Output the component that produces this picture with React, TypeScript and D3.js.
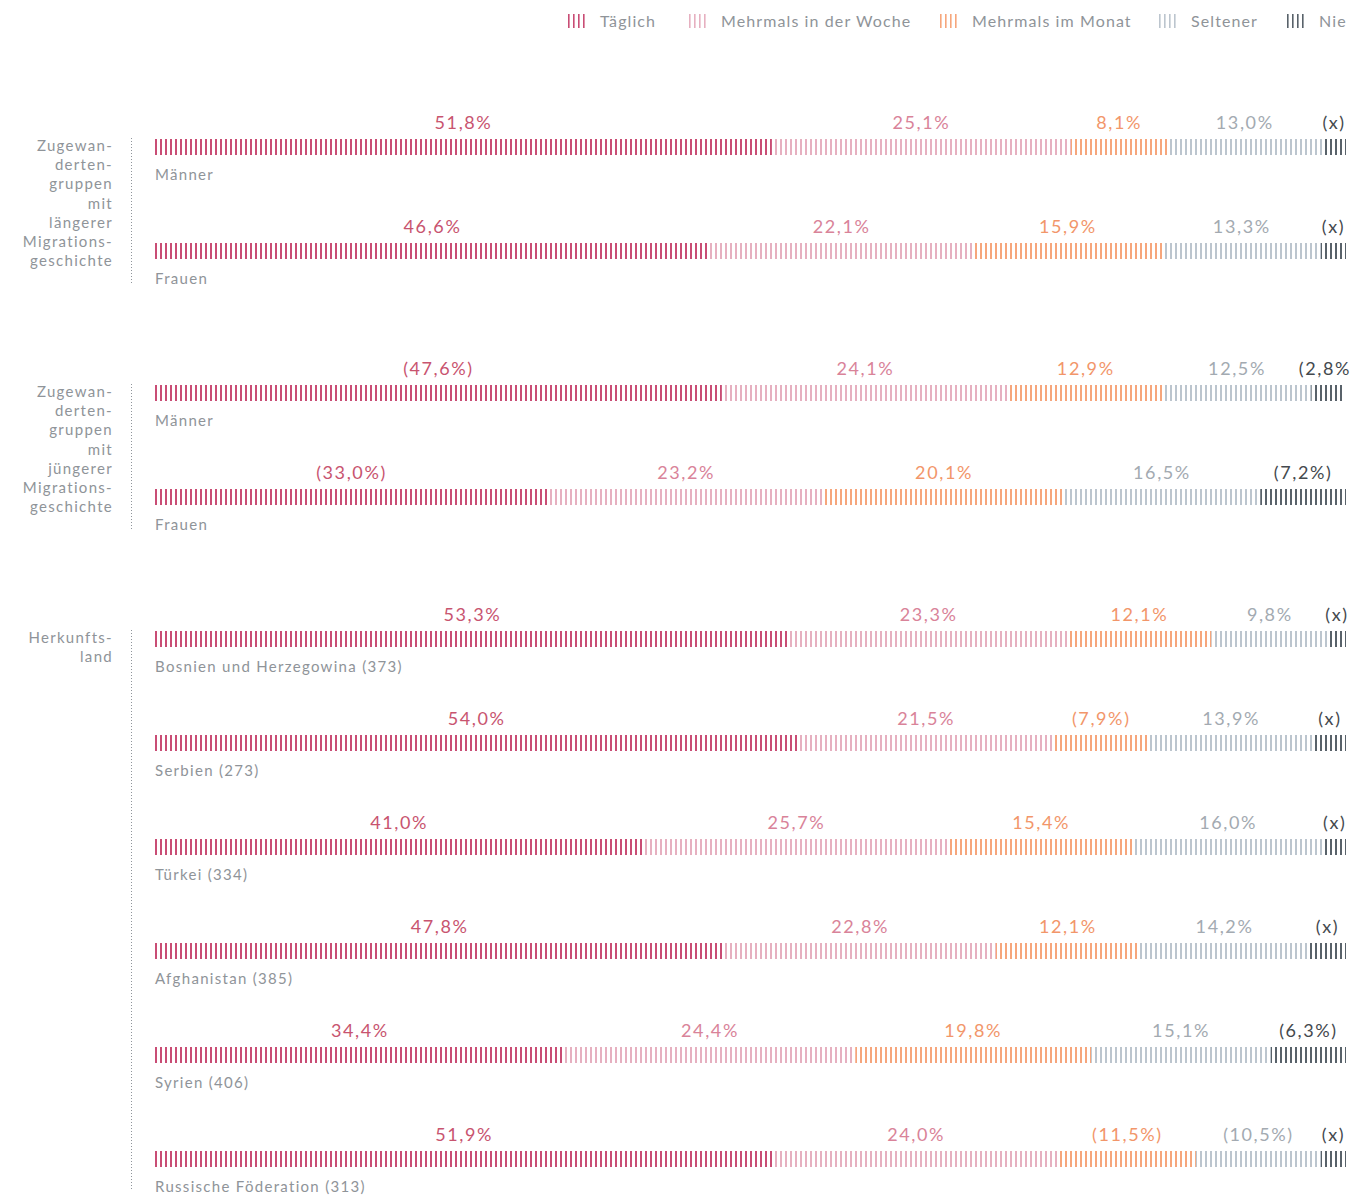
import React from "react";
import * as d3 from "d3";

const categories = ["Täglich", "Mehrmals in der Woche", "Mehrmals im Monat", "Seltener", "Nie"];
const colors = ["#c94d75", "#e6b0c0", "#f6a67c", "#bcc5ce", "#59626a"];
const labelColors = ["#c8546f", "#d98399", "#f2966a", "#a3aab1", "#44494e"];

const rowNames = [
  "Männer", "Frauen",
  "Männer", "Frauen",
  "Bosnien und Herzegowina (373)", "Serbien (273)", "Türkei (334)", "Afghanistan (385)", "Syrien (406)", "Russische Föderation (313)",
];
const rowGroup = [0, 0, 1, 1, 2, 2, 2, 2, 2, 2];
const groupLabels = [
  ["Zugewan-", "derten-", "gruppen", "mit", "längerer", "Migrations-", "geschichte"],
  ["Zugewan-", "derten-", "gruppen", "mit", "jüngerer", "Migrations-", "geschichte"],
  ["Herkunfts-", "land"],
];

const taeglich = [51.8, 46.6, 47.6, 33.0, 53.3, 54.0, 41.0, 47.8, 34.4, 51.9];
const woche = [25.1, 22.1, 24.1, 23.2, 23.3, 21.5, 25.7, 22.8, 24.4, 24.0];
const monat = [8.1, 15.9, 12.9, 20.1, 12.1, 7.9, 15.4, 12.1, 19.8, 11.5];
const seltener = [13.0, 13.3, 12.5, 16.5, 9.8, 13.9, 16.0, 14.2, 15.1, 10.5];
const nie = [2.0, 2.1, 2.8, 7.2, 1.5, 2.7, 1.9, 3.1, 6.3, 2.1];

const taeglichLabels = ["51,8%", "46,6%", "(47,6%)", "(33,0%)", "53,3%", "54,0%", "41,0%", "47,8%", "34,4%", "51,9%"];
const wocheLabels = ["25,1%", "22,1%", "24,1%", "23,2%", "23,3%", "21,5%", "25,7%", "22,8%", "24,4%", "24,0%"];
const monatLabels = ["8,1%", "15,9%", "12,9%", "20,1%", "12,1%", "(7,9%)", "15,4%", "12,1%", "19,8%", "(11,5%)"];
const seltenerLabels = ["13,0%", "13,3%", "12,5%", "16,5%", "9,8%", "13,9%", "16,0%", "14,2%", "15,1%", "(10,5%)"];
const nieLabels = ["(x)", "(x)", "(2,8%)", "(7,2%)", "(x)", "(x)", "(x)", "(x)", "(6,3%)", "(x)"];

const series = [taeglich, woche, monat, seltener, nie];
const seriesLabels = [taeglichLabels, wocheLabels, monatLabels, seltenerLabels, nieLabels];

const W = 1351;
const H = 1197;
const X0 = 155;
const X1 = 1346;
const BAR_H = 16;
const FONT = "Lato, 'Open Sans', sans-serif";

export default function App() {
  const x = d3.scaleLinear().domain([0, 100]).range([X0, X1]);
  const rowY = (i: number) => 139 + i * 104 + rowGroup[i] * 38;

  const legendX = [568, 689, 940, 1159, 1287];

  return (
    <svg width={W} height={H} style={{ position: "absolute", left: 0, top: 0, background: "#fff" }} fontFamily={FONT}>
      <defs>
        {colors.map((c, k) => (
          <pattern key={k} id={`stripe${k}`} patternUnits="userSpaceOnUse" x={X0} y={0} width={5} height={10}>
            <rect x={0} y={0} width={2} height={10} fill={c} />
          </pattern>
        ))}
      </defs>

      {/* legend */}
      {categories.map((cat, k) => (
        <g key={cat} transform={`translate(${legendX[k]},0)`}>
          {d3.range(4).map((j) => (
            <rect key={j} x={j * 5} y={14} width={1.6} height={14} fill={colors[k]} />
          ))}
          <text x={32} y={27} fontSize={16} fill="#8f9499" letterSpacing={1.1}>{cat}</text>
        </g>
      ))}

      {/* group labels and dotted lines */}
      {groupLabels.map((lines, g) => {
        const rows = rowGroup.map((gg, i) => (gg === g ? i : -1)).filter((i) => i >= 0);
        const top = rowY(rows[0]);
        const bottom = rowY(rows[rows.length - 1]) + 40;
        return (
          <g key={g}>
            {lines.map((l, j) => (
              <text key={j} x={113} y={top + 12 + j * 19.2} fontSize={15} fill="#8f9499" textAnchor="end" letterSpacing={1.3}>{l}</text>
            ))}
            <line x1={131.5} x2={131.5} y1={top - 1} y2={bottom} stroke="#8f959b" strokeWidth={1} strokeDasharray="1,2" />
          </g>
        );
      })}

      {/* bars */}
      {rowNames.map((name, i) => {
        const y = rowY(i);
        let cum = 0;
        return (
          <g key={i}>
            {series.map((s, k) => {
              const start = cum;
              cum += s[i];
              const xa = x(start);
              const xb = Math.min(x(cum), X1);
              return (
                <g key={k}>
                  <rect x={xa} y={y} width={Math.max(0, xb - xa)} height={BAR_H} fill={`url(#stripe${k})`} />
                  <text x={(xa + xb) / 2} y={y - 10} fontSize={18} fill={labelColors[k]} textAnchor="middle" letterSpacing={1.6}>
                    {seriesLabels[k][i]}
                  </text>
                </g>
              );
            })}
            <text x={X0} y={y + 41} fontSize={15} fill="#8f9499" letterSpacing={1.3}>{name}</text>
          </g>
        );
      })}
    </svg>
  );
}
